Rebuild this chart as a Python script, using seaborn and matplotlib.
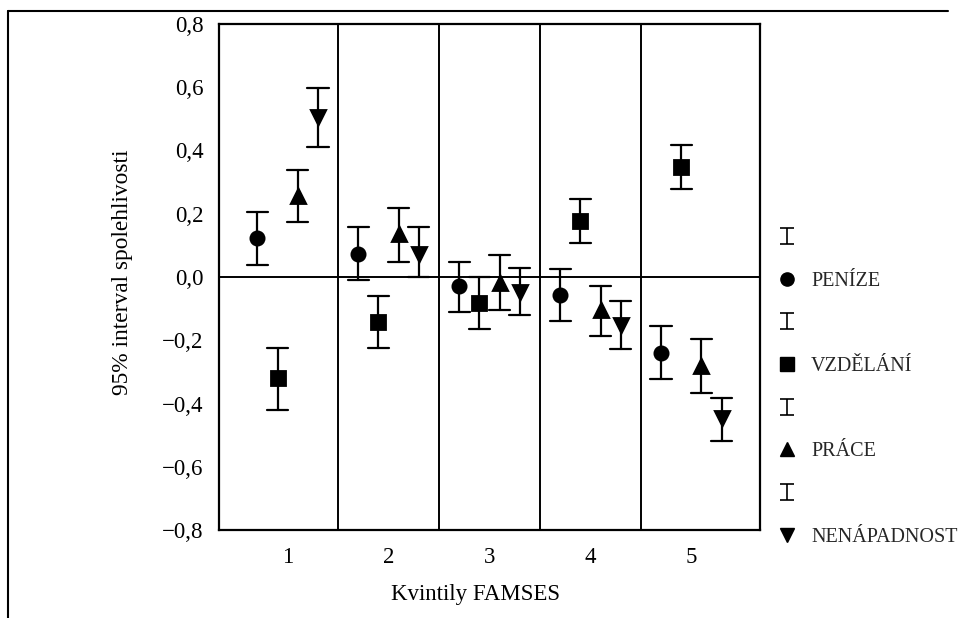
import numpy as np
import pandas as pd
import matplotlib
matplotlib.use("Agg")
import matplotlib.pyplot as plt
import seaborn as sns
from matplotlib.lines import Line2D
from matplotlib.path import Path

# ---- data -------------------------------------------------------------
quintiles = ["1", "2", "3", "4", "5"]
series = ["PENÍZE", "VZDĚLÁNÍ", "PRÁCE", "NENÁPADNOST"]

penize_mean = [0.124, 0.074, -0.030, -0.057, -0.239]
penize_lo = [0.038, -0.009, -0.110, -0.138, -0.322]
penize_hi = [0.207, 0.157, 0.048, 0.025, -0.154]

vzdelani_mean = [-0.320, -0.142, -0.082, 0.178, 0.347]
vzdelani_lo = [-0.420, -0.226, -0.164, 0.106, 0.277]
vzdelani_hi = [-0.226, -0.059, 0.000, 0.247, 0.416]

prace_mean = [0.256, 0.136, -0.020, -0.105, -0.280]
prace_lo = [0.175, 0.048, -0.105, -0.186, -0.367]
prace_hi = [0.338, 0.217, 0.069, -0.027, -0.197]

nenap_mean = [0.506, 0.074, -0.048, -0.153, -0.447]
nenap_lo = [0.410, -0.001, -0.121, -0.228, -0.520]
nenap_hi = [0.597, 0.157, 0.030, -0.075, -0.382]

y_ticks = [0.8, 0.6, 0.4, 0.2, 0.0, -0.2, -0.4, -0.6, -0.8]
y_ticklabels = ["0,8", "0,6", "0,4", "0,2", "0,0", "\u22120,2", "\u22120,4", "\u22120,6", "\u22120,8"]

# long table: lower bound, mean, upper bound per cell
table = {
    "PENÍZE": (penize_lo, penize_mean, penize_hi),
    "VZDĚLÁNÍ": (vzdelani_lo, vzdelani_mean, vzdelani_hi),
    "PRÁCE": (prace_lo, prace_mean, prace_hi),
    "NENÁPADNOST": (nenap_lo, nenap_mean, nenap_hi),
}
rows = []
for s in series:
    lo, mn, hi = table[s]
    for i, q in enumerate(quintiles):
        for v in (lo[i], mn[i], hi[i]):
            rows.append({"kvintil": q, "hodnota": v, "skupina": s})
df = pd.DataFrame(rows)

# ---- style ------------------------------------------------------------
sns.set_style("white")
plt.rcParams["font.family"] = ["Liberation Serif", "DejaVu Serif"]
plt.rcParams["axes.unicode_minus"] = True

fig = plt.figure(figsize=(9.58, 6.18), dpi=100)
ax = fig.add_axes([219 / 958, 1 - 530 / 618, 541 / 958, 506 / 618])

markers = ["o", "s", "^", "v"]
sns.pointplot(
    data=df, x="kvintil", y="hodnota", hue="skupina",
    order=quintiles, hue_order=series,
    estimator="median", errorbar=("pi", 100),
    dodge=0.6, markers=markers, linestyles="none",
    palette=["black"] * 4, capsize=0.21,
    err_kws={"linewidth": 1.6}, markersize=9.5,
    legend=False, ax=ax, zorder=3,
)

ax.set_xlim(-0.68, 4.68)
ax.set_ylim(-0.8, 0.8)
ax.axhline(0, color="black", linewidth=1.4, zorder=1)
for xv in [0.5, 1.5, 2.5, 3.5]:
    ax.axvline(xv, color="black", linewidth=1.4, zorder=1)

for sp in ax.spines.values():
    sp.set_visible(True)
    sp.set_color("black")
    sp.set_linewidth(1.6)

ax.set_yticks(y_ticks)
ax.set_yticklabels(y_ticklabels)
ax.tick_params(axis="y", length=2, width=1, pad=9, labelsize=16.5, colors="black")
ax.tick_params(axis="x", length=5, width=1.3, pad=7, labelsize=16.5, colors="black", direction="out")
ax.set_xticks(range(5))
ax.set_xticklabels(quintiles)

ax.set_xlabel("Kvintily FAMSES", fontsize=16.5, color="black")
ax.xaxis.set_label_coords(0.475, -0.107)
ax.set_ylabel("95% interval spolehlivosti", fontsize=16.8, color="black")
ax.yaxis.set_label_coords(-0.159, 0.51)

# ---- legend ------------------------------------------------------------
M, L = Path.MOVETO, Path.LINETO
i_path = Path([(-0.43, 0.5), (0.43, 0.5), (0, 0.5), (0, -0.5), (-0.43, -0.5), (0.43, -0.5)],
              [M, L, M, L, M, L])
handles, labels = [], []
for s, m in zip(series, markers):
    handles.append(Line2D([], [], marker=i_path, linestyle="none", color="black",
                          markersize=11, markeredgewidth=1.2, fillstyle="none"))
    labels.append(" ")
    handles.append(Line2D([], [], marker=m, linestyle="none", color="black", markersize=9.5))
    labels.append(s)
fig.legend(handles, labels, loc="upper left", bbox_to_anchor=(775 / 958, 1 - 229 / 618),
           frameon=False, fontsize=14.5, handlelength=1.2, handletextpad=0.6,
           labelspacing=1.17, borderpad=0, borderaxespad=0)

# scan frame lines
fig.add_artist(Line2D([8 / 958, 948 / 958], [1 - 11 / 618, 1 - 11 / 618],
                      transform=fig.transFigure, color="black", linewidth=1.5))
fig.add_artist(Line2D([8 / 958, 8 / 958], [1 - 11 / 618, 0],
                      transform=fig.transFigure, color="black", linewidth=1.5))

fig.savefig("out.png", dpi=100)
